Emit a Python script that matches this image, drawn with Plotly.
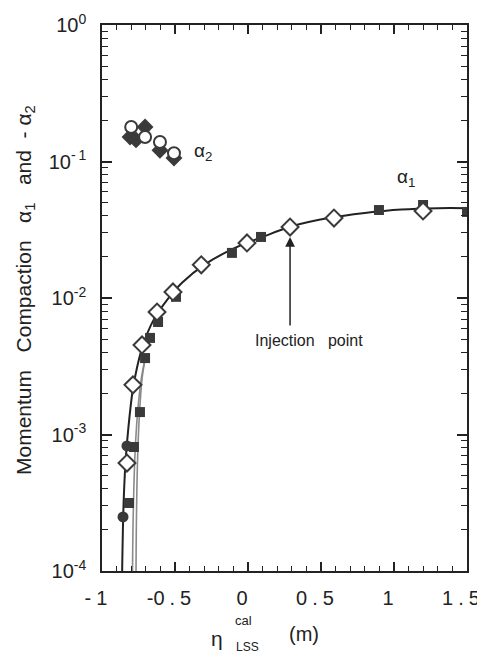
import plotly.graph_objects as go

# alpha_2 (shown as -alpha_2)
a2_circ_x = [-0.80, -0.705, -0.603, -0.507]
a2_circ_y = [0.179, 0.151, 0.139, 0.115]
a2_diam_x = [-0.808, -0.767, -0.705, -0.603, -0.507]
a2_diam_y = [0.151, 0.144, 0.179, 0.121, 0.106]

# alpha_1 measured points
a1_diam_x = [-0.829, -0.788, -0.726, -0.623, -0.514, -0.32, -0.007, 0.288, 0.589, 1.199]
a1_diam_y = [0.000618, 0.00231, 0.00453, 0.00789, 0.01107, 0.0175, 0.0253, 0.0331, 0.0385, 0.0434]
a1_sq_x = [-0.815, -0.781, -0.740, -0.705, -0.671, -0.616, -0.493, -0.110, 0.089, 0.897, 1.199, 1.50]
a1_sq_y = [0.000315, 0.00081, 0.00146, 0.00363, 0.0051, 0.00667, 0.0102, 0.0214, 0.028, 0.0441, 0.048, 0.0427]
a1_circ_x = [-0.856, -0.829]
a1_circ_y = [0.000249, 0.000824]

# fitted curves
fit_x = [-0.866, -0.862, -0.857, -0.850, -0.838, -0.82, -0.79, -0.76, -0.72, -0.65, -0.55, -0.45, -0.30,
         -0.10, 0.10, 0.30, 0.55, 0.80, 1.05, 1.30, 1.50]
fit_y = [5e-5, 1e-4, 2.0e-4, 3.6e-4, 6.5e-4, 1.1e-3, 2.1e-3, 3.1e-3, 4.5e-3, 6.8e-3, 9.8e-3, 1.3e-2, 1.75e-2,
         2.3e-2, 2.8e-2, 3.35e-2, 3.85e-2, 4.2e-2, 4.45e-2, 4.55e-2, 4.55e-2]
grey1_x = [-0.793, -0.791, -0.788, -0.782, -0.772, -0.755, -0.73, -0.70]
grey1_y = [5e-5, 1e-4, 2e-4, 4e-4, 8e-4, 1.5e-3, 2.6e-3, 3.8e-3]
grey2_x = [-0.768, -0.767, -0.765, -0.761, -0.754, -0.742, -0.725, -0.70]
grey2_y = [5e-5, 1e-4, 2e-4, 4e-4, 8e-4, 1.5e-3, 2.6e-3, 3.8e-3]

S = "\u2005"
x_ticks = [-1, -0.5, 0, 0.5, 1, 1.5]
x_ticktext = ["-" + S + "1", "-0" + S + "." + S + "5", "0", "0" + S + "." + S + "5", "1", "1" + S + "." + S + "5"]
y_ticks = [1e-4, 1e-3, 1e-2, 1e-1, 1]
y_ticktext = ["10<sup>-4</sup>", "10<sup>-3</sup>", "10<sup>-2</sup>", "10<sup>-\u20091</sup>", "10<sup>0</sup>"]

DARK = "#3a3a3a"
fig = go.Figure()

fig.add_trace(go.Scatter(x=grey1_x, y=grey1_y, mode="lines", line=dict(color="#8a8a8a", width=1.6, shape="spline")))
fig.add_trace(go.Scatter(x=grey2_x, y=grey2_y, mode="lines", line=dict(color="#8a8a8a", width=1.6, shape="spline")))
fig.add_trace(go.Scatter(x=fit_x, y=fit_y, mode="lines", line=dict(color="#222", width=2, shape="spline")))

fig.add_trace(go.Scatter(x=a1_sq_x, y=a1_sq_y, mode="markers",
                         marker=dict(symbol="square", size=10, color=DARK, line=dict(width=0))))
fig.add_trace(go.Scatter(x=a1_circ_x, y=a1_circ_y, mode="markers",
                         marker=dict(symbol="circle", size=11, color=DARK, line=dict(width=0))))
fig.add_trace(go.Scatter(x=a1_diam_x, y=a1_diam_y, mode="markers",
                         marker=dict(symbol="diamond", size=13, color="white", line=dict(color=DARK, width=2))))

fig.add_trace(go.Scatter(x=a2_diam_x, y=a2_diam_y, mode="markers",
                         marker=dict(symbol="diamond", size=13, color=DARK, line=dict(width=0))))
fig.add_trace(go.Scatter(x=a2_circ_x, y=a2_circ_y, mode="markers",
                         marker=dict(symbol="circle", size=12, color="white", line=dict(color=DARK, width=2))))

FONT = "Liberation Sans, Arial, sans-serif"
axis_common = dict(showline=True, linecolor="#222", linewidth=1.5, mirror="allticks", ticks="inside",
                   tickcolor="#222", showgrid=False, zeroline=False, automargin=False,
                   ticklabeloverflow="allow",
                   tickfont=dict(family=FONT, size=20, color="#222"))

fig.update_xaxes(range=[-1, 1.5], tickmode="array", tickvals=x_ticks, ticktext=x_ticktext,
                 ticklen=9, tickwidth=1.5, ticklabelstandoff=8, ticklabelshift=-6,
                 minor=dict(ticks="inside", dtick=0.1, ticklen=5, tickcolor="#222", tickwidth=1.2),
                 **axis_common)
y_minor = [m * 10 ** e for e in (-4, -3, -2, -1) for m in range(2, 10)]
NB = "\u00a0"
ytitle = ("Momentum" + NB * 3 + "Compaction" + NB * 3 + "α<sub>1</sub>" + NB * 3 + "and" + NB * 2 + "-" + NB + "α<sub>2</sub>")
fig.update_yaxes(type="log", range=[-4, 0], tickmode="array", tickvals=y_ticks, ticktext=y_ticktext,
                 ticklen=10, tickwidth=1.5, ticklabelstandoff=10,
                 minor=dict(ticks="inside", tickmode="array", tickvals=y_minor, ticklen=6, tickcolor="#222", tickwidth=1.2),
                 **axis_common)

ann_font = dict(family=FONT, color="#222")
fig.add_annotation(x=0.288, y=-1.553, ax=0.288, ay=-2.212, xref="x", yref="y", axref="x", ayref="y",
                   showarrow=True, arrowhead=2, arrowsize=1.3, arrowwidth=1.5, arrowcolor="#222", text="")
fig.add_annotation(x=0.42, y=-2.31, xref="x", yref="y", text="Injection" + NB * 3 + "point", showarrow=False,
                   font=dict(size=16, **ann_font))
fig.add_annotation(x=-0.31, y=-0.93, xref="x", yref="y", text="α<sub>2</sub>", showarrow=False,
                   font=dict(size=19, **ann_font))
fig.add_annotation(x=1.08, y=-1.12, xref="x", yref="y", text="α<sub>1</sub>", showarrow=False,
                   font=dict(size=19, **ann_font))

# the page body has an 8px margin: place the plot so it lands where the reference has it
OFF = 8
W, H = 485, 653
L, R, T, B = 102 - OFF, W - 467 + OFF, 25 - OFF, H - 571 + OFF


def place(sx, sy, text, size, angle=0):
    fx = sx - OFF
    fy = sy - OFF
    fig.add_annotation(x=(fx - L) / (W - L - R), y=((H - fy) - B) / (H - T - B), xref="paper", yref="paper",
                       xanchor="center", yanchor="middle",
                       text=text, showarrow=False, textangle=angle, font=dict(size=size, **ann_font))


place(25, 290, ytitle, 21, -90)
place(217, 638, "η", 21)
place(243, 620, "cal", 13)
place(247, 647, "LSS", 12)
place(304, 634, "(m)", 20)

fig.update_layout(width=W, height=H, margin=dict(l=L, r=R, t=T, b=B), showlegend=False,
                  plot_bgcolor="white", paper_bgcolor="white")
fig.write_html("out.html")
